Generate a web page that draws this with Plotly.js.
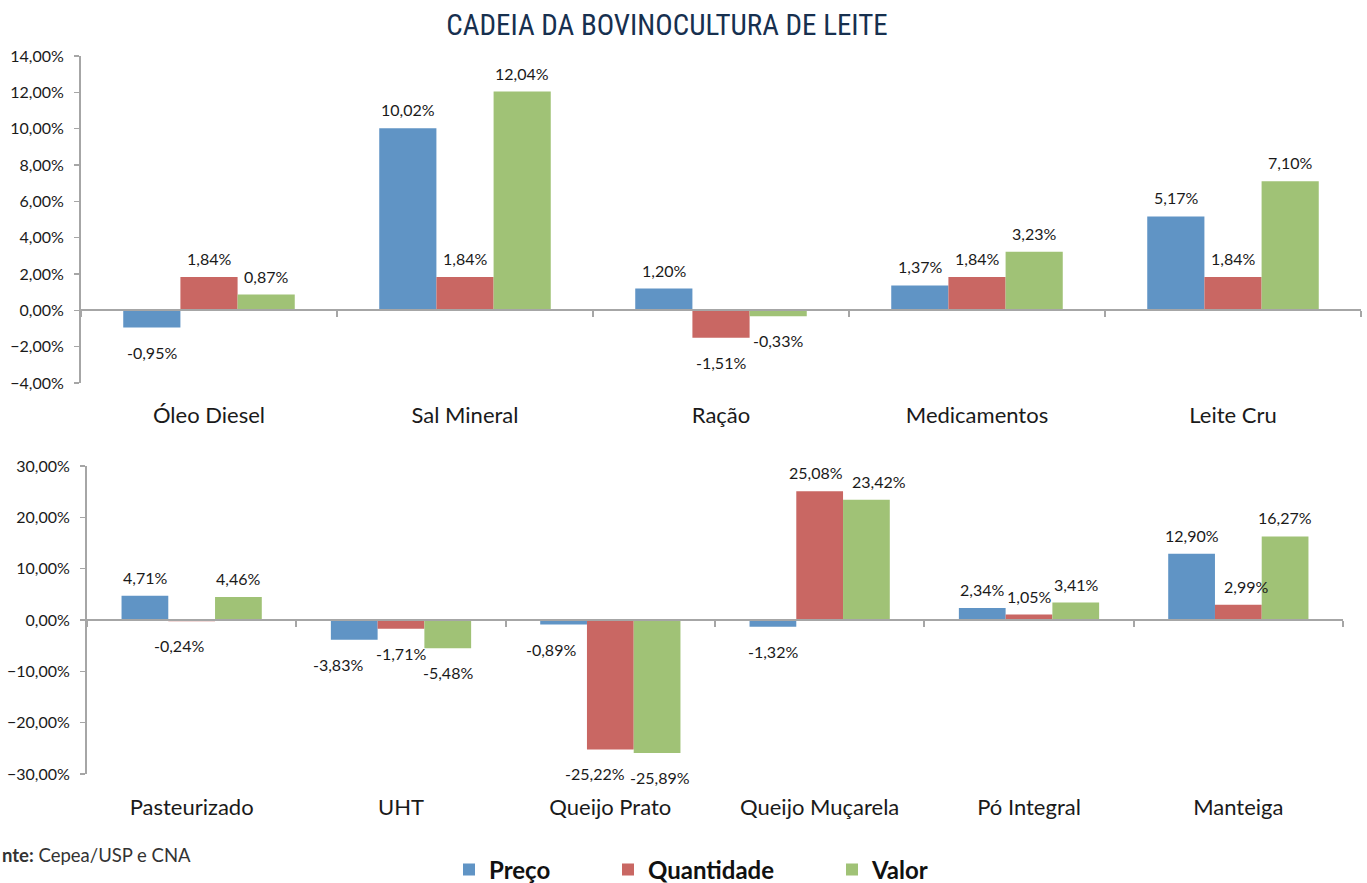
<!DOCTYPE html>
<html>
<head>
<meta charset="utf-8">
<script src="https://cdn.plot.ly/plotly-3.0.1.min.js"></script>
<style>html,body{margin:0;padding:0;background:#fff;overflow:hidden;}#chart{width:1367px;height:883px;}</style>
</head>
<body>
<div id="chart"></div>
<script>
// ---- data ----
const seriesNames = ['Preço', 'Quantidade', 'Valor'];
const seriesColors = ['#6094c5', '#c96763', '#a0c276'];

const topCategories = ['Óleo Diesel', 'Sal Mineral', 'Ração', 'Medicamentos', 'Leite Cru'];
const topPreco      = [-0.95, 10.02, 1.20, 1.37, 5.17];
const topQuantidade = [1.84, 1.84, -1.51, 1.84, 1.84];
const topValor      = [0.87, 12.04, -0.33, 3.23, 7.10];

const botCategories = ['Pasteurizado', 'UHT', 'Queijo Prato', 'Queijo Muçarela', 'Pó Integral', 'Manteiga'];
const botPreco      = [4.71, -3.83, -0.89, -1.32, 2.34, 12.90];
const botQuantidade = [-0.24, -1.71, -25.22, 25.08, 1.05, 2.99];
const botValor      = [4.46, -5.48, -25.89, 23.42, 3.41, 16.27];

const titleText = 'CADEIA DA BOVINOCULTURA DE LEITE';
const sourceText = '<b>nte:</b> Cepea/USP e CNA';

// ---- style: label nudges (px) to avoid collisions, keyed panel:series:category ----
const labelNudge = {
  'bot:1:0': -13, 'bot:0:1': -16, 'bot:0:2': -13, 'bot:1:2': -15, 'bot:2:2': 3,
  'bot:1:3': -4, 'bot:2:3': 13, 'bot:1:5': 8
};

// ---- layout geometry ----
const W = 1367, H = 883;
const BARGAP = 0.33;
const topY = {domain: [1 - 383 / H, 1 - 56 / H], range: [-4, 14], dtick: 2};
const botY = {domain: [1 - 774 / H, 1 - 466 / H], range: [-30, 30], dtick: 10};
const topX = [81 / W, 1361 / W];
const botX = [87 / W, 1343 / W];

function zeroPos(ax) {
  return ax.domain[0] + (0 - ax.range[0]) / (ax.range[1] - ax.range[0]) * (ax.domain[1] - ax.domain[0]);
}
function fmt(v) { return v.toFixed(2).replace('.', ',') + '%'; }

const topSeries = [topPreco, topQuantidade, topValor];
const botSeries = [botPreco, botQuantidade, botValor];
const legendIds = ['legend', 'legend2', 'legend3'];

const traces = [];
topSeries.forEach((vals, k) => {
  traces.push({type: 'bar', x: topCategories, y: vals, name: seriesNames[k],
    marker: {color: seriesColors[k], line: {width: 0}}, xaxis: 'x', yaxis: 'y',
    legend: legendIds[k], legendgroup: seriesNames[k], hoverinfo: 'skip'});
});
botSeries.forEach((vals, k) => {
  traces.push({type: 'bar', x: botCategories, y: vals, name: seriesNames[k],
    marker: {color: seriesColors[k], line: {width: 0}}, xaxis: 'x2', yaxis: 'y2',
    legend: legendIds[k], legendgroup: seriesNames[k], showlegend: false, hoverinfo: 'skip'});
});

const labelFont = {family: 'Lato, sans-serif', size: 16, color: '#1a1a1a'};
const annotations = [];
const w = (1 - BARGAP) / 3;
function addLabels(panel, series, xref, yref) {
  series.forEach((vals, k) => {
    vals.forEach((v, i) => {
      const pos = v >= 0;
      annotations.push({xref: xref, yref: yref, x: i + (k - 1) * w, y: v,
        text: fmt(v), showarrow: false, font: labelFont,
        xanchor: 'center', yanchor: pos ? 'bottom' : 'top',
        xshift: labelNudge[panel + ':' + k + ':' + i] || 0,
        yshift: pos ? 7 : -13});
    });
  });
}
addLabels('top', topSeries, 'x', 'y');
addLabels('bot', botSeries, 'x2', 'y2');

annotations.push({xref: 'paper', yref: 'paper', x: 0, y: 1 - 855 / H, xanchor: 'left', yanchor: 'middle',
  text: sourceText, showarrow: false, font: {family: 'Lato, sans-serif', size: 18.5, color: '#333'}});

const axisGray = '#a6a6a6';
const tickFont = {family: 'Lato, sans-serif', size: 16, color: '#1a1a1a'};
const catFont = {family: 'Lato, sans-serif', size: 22, color: '#1a1a1a'};

function yAxis(ax, anchor) {
  return {domain: ax.domain, range: ax.range, dtick: ax.dtick, tick0: 0, anchor: anchor,
    showgrid: false, zeroline: false, showline: true, linecolor: axisGray, linewidth: 2,
    ticks: 'outside', ticklen: 5, tickcolor: axisGray, tickwidth: 1.5, ticklabelstandoff: 7,
    tickformat: '.2f', ticksuffix: '%', tickfont: tickFont, fixedrange: true, automargin: false};
}
function xAxis(dom, yax, standoff) {
  return {domain: dom, anchor: 'free', position: zeroPos(yax), type: 'category',
    showgrid: false, zeroline: false, showline: true, linecolor: axisGray, linewidth: 2,
    ticks: 'outside', tickson: 'boundaries', ticklen: 6, tickcolor: axisGray, tickwidth: 2,
    tickfont: catFont, ticklabelstandoff: standoff, fixedrange: true, automargin: false};
}

const legendFont = {family: 'Lato, sans-serif', size: 24, color: '#111', weight: 700};
function legendAt(xpx) {
  return {orientation: 'h', x: xpx / W, xanchor: 'left', xref: 'container',
    y: 1 - 870 / H, yanchor: 'middle', yref: 'container',
    font: legendFont, bgcolor: 'rgba(0,0,0,0)', borderwidth: 0, itemwidth: 30};
}

const layout = {
  width: W, height: H,
  margin: {l: 0, r: 0, t: 0, b: 0, autoexpand: false},
  paper_bgcolor: '#fff', plot_bgcolor: 'rgba(0,0,0,0)',
  separators: ',.',
  barmode: 'group', bargap: BARGAP, bargroupgap: 0,
  title: {text: titleText, x: 667 / W, xanchor: 'center', xref: 'paper', y: 1 - 25 / H, yanchor: 'middle', yref: 'container',
    font: {family: '"Roboto Condensed", "DejaVu Sans Condensed", "Liberation Sans Narrow", sans-serif', size: 29, color: '#17304f', stretch: 'condensed'}},
  xaxis: xAxis(topX, topY, 85),
  yaxis: yAxis(topY, 'x'),
  xaxis2: xAxis(botX, botY, 168),
  yaxis2: yAxis(botY, 'x2'),
  legend: legendAt(449),
  legend2: legendAt(608),
  legend3: legendAt(832),
  annotations: annotations,
  hovermode: false
};

Plotly.newPlot('chart', traces, layout, {displayModeBar: false, staticPlot: true});
</script>
</body>
</html>
